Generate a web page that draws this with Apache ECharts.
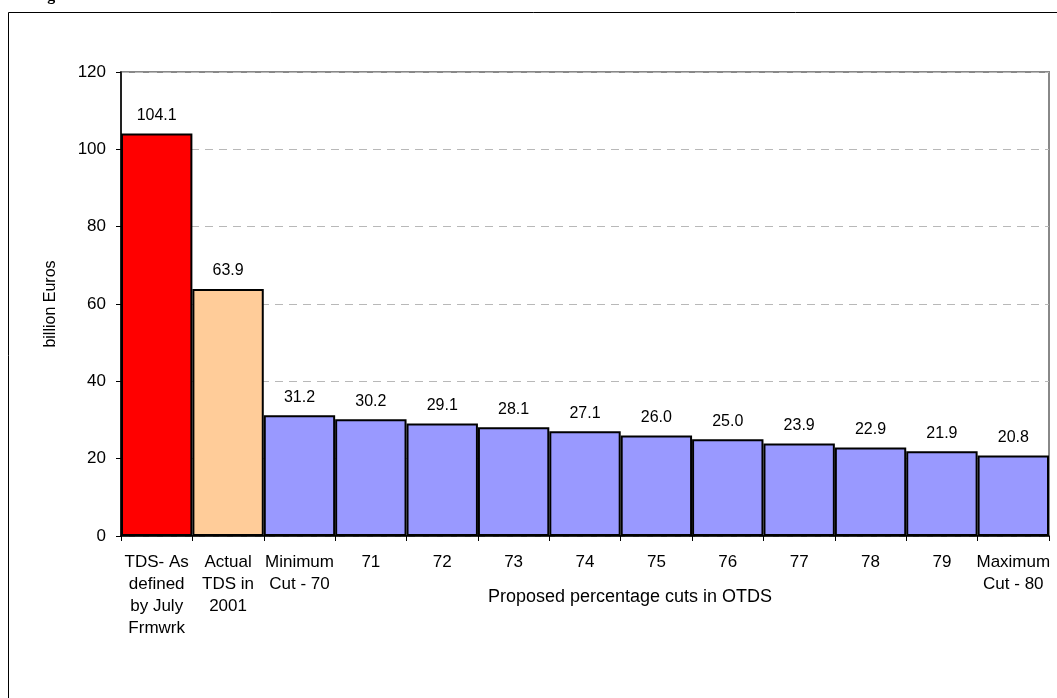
<!DOCTYPE html>
<html>
<head>
<meta charset="utf-8">
<script src="https://cdn.jsdelivr.net/npm/echarts@6/dist/echarts.min.js"></script>
<style>
html,body{margin:0;padding:0;background:#fff;}
#chart{width:1057px;height:698px;}
</style>
</head>
<body>
<div id="chart"></div>
<script>
const categories = ["TDS- As\ndefined\nby July\nFrmwrk", "Actual\nTDS in\n2001", "Minimum\nCut - 70", "71", "72", "73", "74", "75", "76", "77", "78", "79", "Maximum\nCut - 80"];
const values = [104.1, 63.9, 31.2, 30.2, 29.1, 28.1, 27.1, 26.0, 25.0, 23.9, 22.9, 21.9, 20.8];
const barColors = ["#FF0000", "#FFCC99", "#9999FF", "#9999FF", "#9999FF", "#9999FF", "#9999FF", "#9999FF", "#9999FF", "#9999FF", "#9999FF", "#9999FF", "#9999FF"];
const yTicks = [0, 20, 40, 60, 80, 100, 120];

const chart = echarts.init(document.getElementById('chart'), null, {renderer: 'canvas'});
const font = 'Arial, "Liberation Sans", sans-serif';
chart.setOption({
  animation: false,
  backgroundColor: '#fff',
  textStyle: {fontFamily: font, color: '#000'},
  grid: {left: 121, right: 8, top: 72, bottom: 162, show: true, borderColor: '#888', borderWidth: 2, backgroundColor: 'transparent', containLabel: false},
  graphic: [
    {type: 'rect', shape: {x: 8.5, y: 12.5, width: 1070, height: 700}, style: {fill: 'none', stroke: '#000', lineWidth: 1}, z: 0},
    {type: 'text', x: 33, y: -12, style: {text: 'Figure', font: 'bold 16px "Liberation Serif", serif', fill: '#000'}}
  ],
  xAxis: {
    type: 'category',
    data: categories,
    name: 'Proposed percentage cuts in OTDS',
    nameLocation: 'middle',
    nameGap: 52,
    nameMoveOverlap: false,
    nameTextStyle: {fontSize: 18, color: '#000', fontFamily: font, padding: [0, 0, 0, 90]},
    axisLine: {lineStyle: {color: '#000', width: 1.5}},
    axisTick: {show: true, alignWithLabel: false, length: 5, lineStyle: {color: '#000'}},
    axisLabel: {fontSize: 17, color: '#000', margin: 15, lineHeight: 22, interval: 0, fontFamily: font},
    splitLine: {show: false}
  },
  yAxis: {
    type: 'value',
    min: 0, max: 120, interval: 20,
    name: 'billion Euros',
    nameLocation: 'middle',
    nameGap: 62,
    nameMoveOverlap: false,
    nameTextStyle: {fontSize: 16, color: '#000', fontFamily: font},
    axisLine: {show: true, lineStyle: {color: '#000', width: 1.5}},
    axisTick: {show: true, length: 5, lineStyle: {color: '#000'}},
    axisLabel: {fontSize: 17, color: '#000', margin: 15, fontFamily: font, formatter: v => yTicks.includes(v) ? String(v) : ''},
    splitLine: {show: true, lineStyle: {color: '#b8b8b8', type: [8, 6], width: 1}}
  },
  series: [{
    type: 'bar',
    data: values.map((v, i) => ({value: v, itemStyle: {color: barColors[i]}})),
    barWidth: '100%',
    barCategoryGap: 0,
    itemStyle: {borderColor: '#000', borderWidth: 2},
    label: {show: true, position: 'top', distance: 10, fontSize: 16, color: '#000', fontFamily: font, formatter: p => p.value.toFixed(1)}
  }]
});
</script>
</body>
</html>
